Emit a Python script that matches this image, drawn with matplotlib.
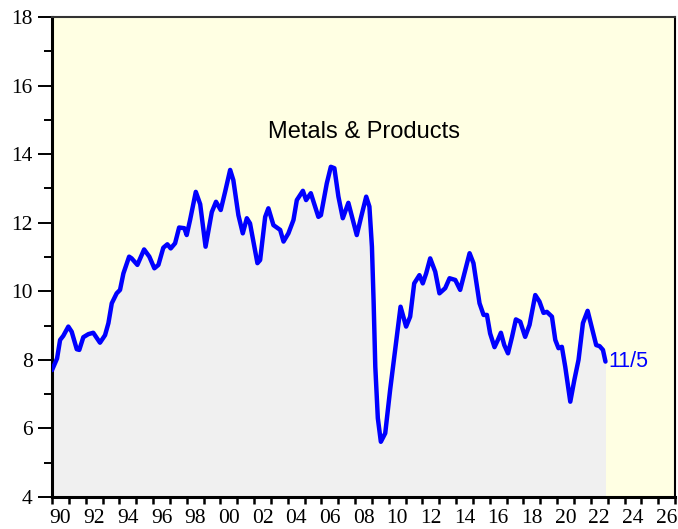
import numpy as np
import matplotlib
matplotlib.use("Agg")
import matplotlib.pyplot as plt
from matplotlib.ticker import MultipleLocator, FixedLocator

# values (decimal year, level)
years = [1990.0, 1990.3, 1990.48, 1990.67, 1990.97, 1991.17, 1991.47, 1991.62, 1991.86, 1992.16,
         1992.45, 1992.85, 1993.15, 1993.35, 1993.55, 1993.84, 1994.04, 1994.24, 1994.58, 1994.73,
         1995.07, 1995.47, 1995.78, 1996.08, 1996.32, 1996.61, 1996.85, 1997.05, 1997.31, 1997.55,
         1997.86, 1998.0, 1998.2, 1998.54, 1998.8, 1999.12, 1999.49, 1999.74, 2000.02, 2000.28,
         2000.58, 2000.77, 2001.07, 2001.33, 2001.57, 2001.76, 2002.2, 2002.36, 2002.66, 2002.85,
         2003.15, 2003.55, 2003.75, 2004.04, 2004.34, 2004.54, 2004.9, 2005.09, 2005.37, 2005.82,
         2005.97, 2006.32, 2006.56, 2006.77, 2007.01, 2007.27, 2007.6, 2008.1, 2008.36, 2008.66,
         2008.85, 2009.0, 2009.1, 2009.2, 2009.35, 2009.53, 2009.79, 2010.08, 2010.38, 2010.7,
         2011.03, 2011.27, 2011.51, 2011.82, 2012.02, 2012.22, 2012.46, 2012.76, 2013.01, 2013.35,
         2013.61, 2013.95, 2014.24, 2014.54, 2014.8, 2015.03, 2015.39, 2015.63, 2015.83, 2016.02,
         2016.28, 2016.48, 2016.66, 2016.86, 2017.08, 2017.32, 2017.55, 2017.81, 2018.1, 2018.36,
         2018.7, 2018.95, 2019.19, 2019.39, 2019.69, 2019.89, 2020.08, 2020.28, 2020.48, 2020.78,
         2021.02, 2021.27, 2021.53, 2021.81, 2022.07, 2022.32, 2022.52, 2022.72, 2022.87]
values = [7.70, 8.04, 8.58, 8.70, 8.97, 8.82, 8.31, 8.29, 8.66, 8.75,
          8.79, 8.50, 8.72, 9.07, 9.65, 9.94, 10.04, 10.52, 11.01, 10.96,
          10.77, 11.22, 11.01, 10.67, 10.77, 11.27, 11.37, 11.25, 11.40, 11.86,
          11.84, 11.64, 12.08, 12.90, 12.54, 11.30, 12.31, 12.61, 12.37, 12.90,
          13.54, 13.24, 12.22, 11.69, 12.13, 11.98, 10.82, 10.91, 12.17, 12.42,
          11.93, 11.79, 11.45, 11.69, 12.08, 12.66, 12.93, 12.66, 12.86, 12.17,
          12.22, 13.15, 13.63, 13.59, 12.76, 12.13, 12.58, 11.64, 12.17, 12.76,
          12.47, 11.3, 9.7, 7.8, 6.3, 5.61, 5.86, 7.12, 8.29, 9.55,
          8.97, 9.26, 10.23, 10.47, 10.23, 10.52, 10.96, 10.57, 9.94, 10.09,
          10.38, 10.33, 10.04, 10.62, 11.11, 10.82, 9.65, 9.31, 9.31, 8.77,
          8.37, 8.58, 8.79, 8.43, 8.19, 8.67, 9.18, 9.11, 8.67, 9.02,
          9.89, 9.70, 9.37, 9.40, 9.26, 8.58, 8.34, 8.38, 7.80, 6.78,
          7.41, 8.00, 9.07, 9.43, 8.92, 8.43, 8.40, 8.29, 7.95]

title_text = "Metals & Products"
last_label = "11/5"
x_labels = ["90", "92", "94", "96", "98", "00", "02", "04", "06", "08",
            "10", "12", "14", "16", "18", "20", "22", "24", "26"]

fig = plt.figure(figsize=(6.78, 5.29), dpi=100)
ax = fig.add_axes([0.0767, 0.0605, 0.9189, 0.9074])
ax.set_facecolor("#ffffe3")

ax.fill_between(years, values, 4, color="#f0f0f0", linewidth=0, zorder=1)
ax.plot(years, values, color="#0000ff", linewidth=3.2, solid_capstyle="round",
        solid_joinstyle="round", zorder=3)

ax.set_xlim(1990, 2027)
ax.set_ylim(4, 18)

# y axis
ax.yaxis.set_major_locator(MultipleLocator(2))
ax.yaxis.set_minor_locator(MultipleLocator(1))
ax.tick_params(axis="y", which="major", length=10, width=1.4, pad=4, labelsize=15.5)
ax.tick_params(axis="y", which="minor", length=5.5, width=1.4)

# x axis: ticks every year, labels centred inside the year
ax.xaxis.set_major_locator(MultipleLocator(1))
ax.xaxis.set_major_formatter(plt.NullFormatter())
ax.xaxis.set_minor_locator(FixedLocator([1990.5 + 2 * i for i in range(len(x_labels))]))
ax.set_xticklabels(x_labels, minor=True)
ax.tick_params(axis="x", which="major", length=5, width=1.8)
ax.tick_params(axis="x", which="minor", length=0, pad=9, labelsize=15.5)

for lbl in ax.get_xticklabels(minor=True) + ax.get_yticklabels():
    lbl.set_fontfamily("Liberation Serif")

ax.spines["left"].set_linewidth(2.2)
ax.spines["bottom"].set_linewidth(2.2)
ax.spines["top"].set_linewidth(1.5)
ax.spines["top"].set_color("#333333")
ax.spines["right"].set_linewidth(1.5)

ax.text(2008.5, 14.65, title_text, ha="center", va="center", fontsize=17,
        fontfamily="Liberation Sans", color="black")
ax.text(years[-1] + 0.2, values[-1], last_label, ha="left", va="center", fontsize=15.5,
        fontfamily="Liberation Sans", color="#0000ff")

fig.savefig("out.png", dpi=100)
